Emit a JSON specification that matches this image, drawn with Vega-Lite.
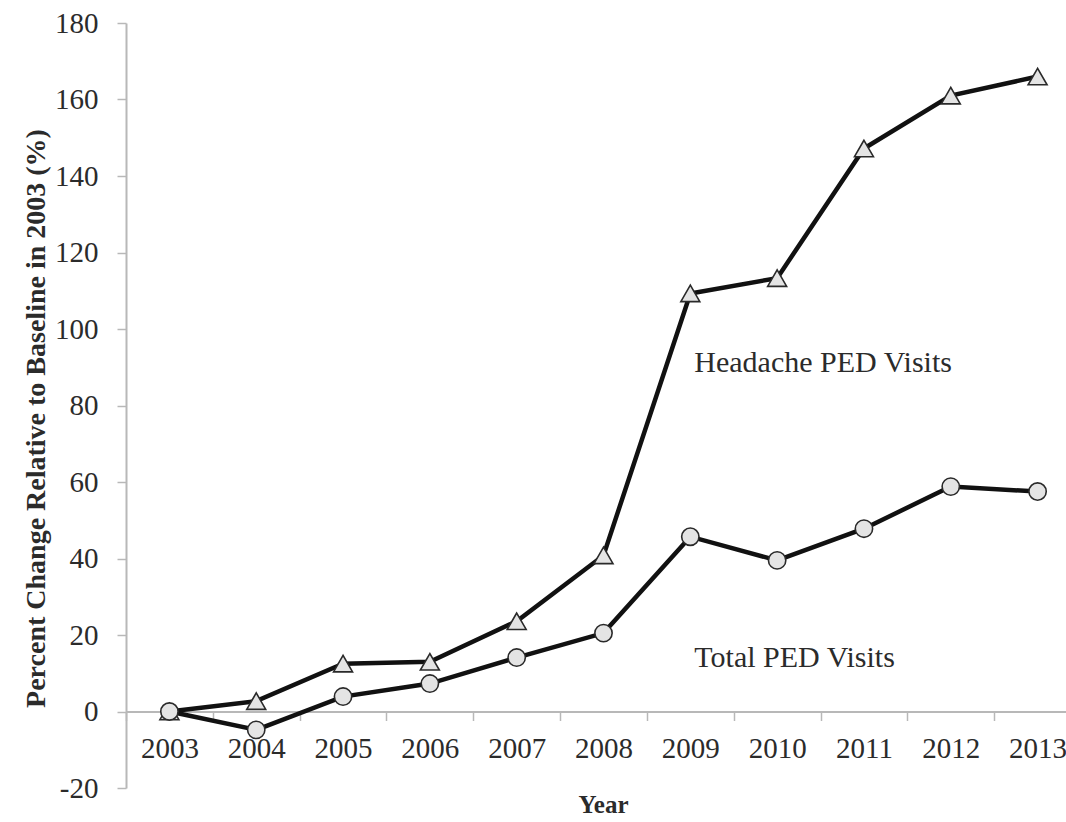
{
  "$schema": "https://vega.github.io/schema/vega-lite/v6.json",
  "autosize": "none",
  "width": 940,
  "height": 765,
  "padding": {"left": 126, "top": 23, "right": 0, "bottom": 34},
  "background": "white",
  "config": {
    "view": {"stroke": null},
    "font": "Liberation Serif"
  },
  "datasets": {
    "series": [
      {"Year": "2003", "series": "Headache", "value": 0},
      {"Year": "2004", "series": "Headache", "value": 2.7},
      {"Year": "2005", "series": "Headache", "value": 12.5},
      {"Year": "2006", "series": "Headache", "value": 13},
      {"Year": "2007", "series": "Headache", "value": 23.6},
      {"Year": "2008", "series": "Headache", "value": 40.8},
      {"Year": "2009", "series": "Headache", "value": 109.3},
      {"Year": "2010", "series": "Headache", "value": 113.3},
      {"Year": "2011", "series": "Headache", "value": 147.2},
      {"Year": "2012", "series": "Headache", "value": 161},
      {"Year": "2013", "series": "Headache", "value": 166},
      {"Year": "2003", "series": "Total", "value": 0},
      {"Year": "2004", "series": "Total", "value": -4.8},
      {"Year": "2005", "series": "Total", "value": 3.9},
      {"Year": "2006", "series": "Total", "value": 7.3},
      {"Year": "2007", "series": "Total", "value": 14.1},
      {"Year": "2008", "series": "Total", "value": 20.5},
      {"Year": "2009", "series": "Total", "value": 45.7},
      {"Year": "2010", "series": "Total", "value": 39.5},
      {"Year": "2011", "series": "Total", "value": 47.8},
      {"Year": "2012", "series": "Total", "value": 58.8},
      {"Year": "2013", "series": "Total", "value": 57.5}
    ],
    "labels": [
      {"Year": "2009", "value": 91, "text": "Headache PED Visits"},
      {"Year": "2009", "value": 14, "text": "Total PED Visits"}
    ]
  },
  "encoding": {
    "x": {
      "field": "Year",
      "type": "ordinal",
      "sort": "ascending",
      "scale": {"type": "band", "range": [0, 955], "paddingInner": 0, "paddingOuter": 0},
      "axis": {
        "title": "Year",
        "offset": -76.5,
        "tickBand": "extent",
        "labelAngle": 0,
        "labelFont": "Liberation Serif",
        "labelFontSize": 29,
        "labelColor": "#2b2b2b",
        "labelBaseline": "middle",
        "labelPadding": 28,
        "tickSize": 9,
        "tickColor": "#b8b8b8",
        "tickWidth": 1.5,
        "domainColor": "#b8b8b8",
        "domainWidth": 2,
        "titleFont": "Liberation Serif",
        "titleFontWeight": "bold",
        "titleFontSize": 25,
        "titleColor": "#2b2b2b",
        "titleX": 477,
        "titleY": 101,
        "titleAlign": "center",
        "titleBaseline": "alphabetic"
      }
    },
    "y": {
      "field": "value",
      "type": "quantitative",
      "scale": {"domain": [-20, 180], "nice": false, "zero": false},
      "axis": {
        "title": "Percent Change Relative to Baseline in 2003 (%)",
        "values": [-20, 0, 20, 40, 60, 80, 100, 120, 140, 160, 180],
        "labelExpr": "datum.value < 0 ? '-' + abs(datum.value) : datum.label",
        "grid": false,
        "labelFont": "Liberation Serif",
        "labelFontSize": 29,
        "labelColor": "#2b2b2b",
        "labelPadding": 19,
        "tickSize": 9,
        "tickColor": "#b8b8b8",
        "tickWidth": 1.5,
        "domainColor": "#b8b8b8",
        "domainWidth": 2,
        "titleFont": "Liberation Serif",
        "titleFontWeight": "bold",
        "titleFontSize": 28,
        "titleColor": "#2b2b2b",
        "titleX": -90,
        "titleY": 395,
        "titleAlign": "center",
        "titleBaseline": "middle"
      }
    }
  },
  "layer": [
    {
      "data": {"name": "series"},
      "mark": {"type": "line", "color": "#111111", "strokeWidth": 4.5},
      "encoding": {"detail": {"field": "series"}}
    },
    {
      "data": {"name": "series"},
      "mark": {"type": "point", "filled": true, "fill": "#e4e4e4", "stroke": "#2a2a2a", "strokeWidth": 1.6, "opacity": 1},
      "encoding": {
        "shape": {
          "field": "series",
          "type": "nominal",
          "scale": {"domain": ["Headache", "Total"], "range": ["triangle-up", "circle"]},
          "legend": null
        },
        "size": {
          "field": "series",
          "type": "nominal",
          "scale": {"domain": ["Headache", "Total"], "range": [360, 300]},
          "legend": null
        }
      }
    },
    {
      "data": {"name": "labels"},
      "mark": {"type": "text", "align": "left", "baseline": "middle", "dx": 4, "font": "Liberation Serif", "fontSize": 30, "color": "#2b2b2b"},
      "encoding": {"text": {"field": "text"}}
    }
  ]
}
